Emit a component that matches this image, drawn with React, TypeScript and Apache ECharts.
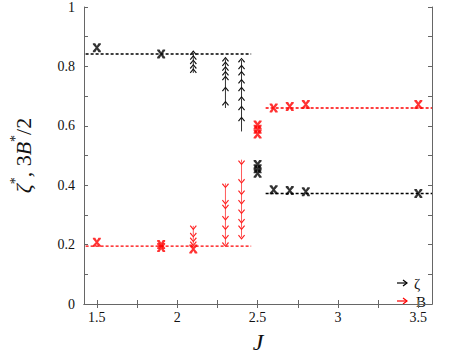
import React, { useEffect, useRef } from "react";
import * as echarts from "echarts";

// ---- data ----
const xTicks = [1.5, 1.75, 2, 2.25, 2.5, 2.75, 3, 3.25, 3.5];
const xLabels = [1.5, 2, 2.5, 3, 3.5];
const yTicks = [0, 0.1, 0.2, 0.3, 0.4, 0.5, 0.6, 0.7, 0.8, 0.9, 1];
const yLabels = [0, 0.2, 0.4, 0.6, 0.8, 1];

// fixed-point levels (dashed)
const zetaLeftLevel = 0.842;
const zetaRightLevel = 0.372;
const bLeftLevel = 0.195;
const bRightLevel = 0.66;
const leftRange = [1.43, 2.46];
const rightRange = [2.55, 3.585];

// converged points (x markers)
const zetaMarkJ = [1.5, 1.9, 2.5, 2.5, 2.5, 2.6, 2.7, 2.8, 3.5];
const zetaMarkV = [0.863, 0.842, 0.47, 0.455, 0.44, 0.385, 0.382, 0.378, 0.372];
const bMarkJ = [1.5, 1.9, 1.9, 2.1, 2.5, 2.5, 2.5, 2.6, 2.7, 2.8, 3.5];
const bMarkV = [0.208, 0.2, 0.19, 0.185, 0.603, 0.588, 0.572, 0.66, 0.665, 0.672, 0.672];

// flows (start value first, then successive iterates)
const zetaFlowJ = [2.1, 2.3, 2.4];
const zetaFlows = [
  [0.778, 0.785, 0.8, 0.815, 0.83, 0.846],
  [0.66, 0.676, 0.724, 0.761, 0.777, 0.793, 0.809, 0.824],
  [0.581, 0.623, 0.66, 0.692, 0.724, 0.75, 0.777, 0.798, 0.821],
];
const bFlowJ = [2.1, 2.3, 2.4];
const bFlows = [
  [0.263, 0.257, 0.232, 0.216, 0.203],
  [0.406, 0.398, 0.343, 0.327, 0.289, 0.257, 0.225, 0.2],
  [0.486, 0.476, 0.413, 0.375, 0.343, 0.311, 0.279, 0.257, 0.225],
];

const SERIF = "Liberation Serif";
const BLACK = "#000000";
const RED = "#ff0000";

const X_MARK =
  "path://M0,0 L3,0 L5,3 L7,0 L10,0 L10,1.5 L6.5,5 L10,8.5 L10,10 L7,10 L5,7 L3,10 L0,10 L0,8.5 L3.5,5 L0,1.5 Z";
const UP = "path://M0,5 L4,0 L8,5 L7,6 L4,2 L1,6 Z";
const DOWN = "path://M0,1 L1,0 L4,4 L7,0 L8,1 L4,6 Z";

export default function App() {
  const ref = useRef<HTMLDivElement>(null);

  useEffect(() => {
    if (!ref.current) return;
    const chart = echarts.init(ref.current, undefined, { renderer: "svg" });

    const series: any[] = [];

    const dashed = (name: string, range: number[], level: number, color: string) => ({
      name,
      type: "line",
      data: [
        [range[0], level],
        [range[1], level],
      ],
      showSymbol: false,
      symbol: "none",
      lineStyle: { color, width: 1.4, type: [3, 2] },
      z: 2,
    });
    series.push(dashed("zl", leftRange, zetaLeftLevel, BLACK));
    series.push(dashed("zr", rightRange, zetaRightLevel, BLACK));
    series.push(dashed("bl", leftRange, bLeftLevel, RED));
    series.push(dashed("br", rightRange, bRightLevel, RED));

    zetaFlows.forEach((vals, i) => {
      series.push({
        name: "ζ",
        type: "line",
        data: vals.map((v, k) =>
          k === 0
            ? { value: [zetaFlowJ[i], v], symbol: "none" }
            : { value: [zetaFlowJ[i], v] }
        ),
        symbol: UP,
        symbolSize: [7, 5],
        showAllSymbol: true,
        itemStyle: { color: "#111" },
        lineStyle: { color: "#333", width: 1 },
        z: 3,
      });
    });
    bFlows.forEach((vals, i) => {
      series.push({
        name: "B",
        type: "line",
        data: vals.map((v, k) =>
          k === 0
            ? { value: [bFlowJ[i], v], symbol: "none" }
            : { value: [bFlowJ[i], v] }
        ),
        symbol: DOWN,
        symbolSize: [7, 5],
        showAllSymbol: true,
        itemStyle: { color: "#ff2020" },
        lineStyle: { color: "#ff5a5a", width: 1 },
        z: 3,
      });
    });

    series.push({
      name: "zetaMarks",
      type: "scatter",
      data: zetaMarkJ.map((j, k) => [j, zetaMarkV[k]]),
      symbol: X_MARK,
      symbolSize: [8, 9],
      itemStyle: { color: BLACK },
      z: 4,
    });
    series.push({
      name: "bMarks",
      type: "scatter",
      data: bMarkJ.map((j, k) => [j, bMarkV[k]]),
      symbol: X_MARK,
      symbolSize: [8, 9],
      itemStyle: { color: RED },
      z: 4,
    });

    const axisLine = { show: true, lineStyle: { color: "#666", width: 1 } };
    const label = {
      fontFamily: SERIF,
      fontSize: 14,
      color: "#111",
    };

    chart.setOption({
      animation: false,
      textStyle: { fontFamily: SERIF },
      grid: { left: 75, right: 17, top: 3, bottom: 41 },
      xAxis: [
        {
          type: "value",
          position: "bottom",
          min: 1.42,
          max: 3.585,
          axisLine,
          axisTick: { inside: true, length: 4, customValues: xTicks, lineStyle: { color: "#666" } },
          axisLabel: { ...label, margin: 6, customValues: xLabels, formatter: (v: number) => String(v) },
          splitLine: { show: false },
          name: "J",
          nameLocation: "middle",
          nameGap: 26,
          nameTextStyle: { fontFamily: SERIF, fontStyle: "italic", fontSize: 24, color: "#111" },
        },
        {
          type: "value",
          position: "top",
          min: 1.42,
          max: 3.585,
          axisLine,
          axisTick: { inside: true, length: 4, customValues: xTicks, lineStyle: { color: "#666" } },
          axisLabel: { show: false },
          splitLine: { show: false },
        },
      ],
      yAxis: [
        {
          type: "value",
          position: "left",
          min: 0,
          max: 1,
          axisLine,
          axisTick: { inside: true, length: 4, customValues: yTicks, lineStyle: { color: "#666" } },
          axisLabel: { ...label, margin: 9, customValues: yLabels, formatter: (v: number) => String(v) },
          splitLine: { show: false },
          name: "{g|ζ}{s|*}{r|, 3}{g|B}{s|*}{r|/2}",
          nameLocation: "middle",
          nameGap: 50,
          nameRotate: 90,
          nameTextStyle: {
            color: "#111",
            fontFamily: SERIF,
            rich: {
              g: { fontFamily: SERIF, fontStyle: "italic", fontSize: 22, color: "#111", lineHeight: 26, verticalAlign: "bottom" },
              r: { fontFamily: SERIF, fontSize: 22, color: "#111", lineHeight: 26, verticalAlign: "bottom" },
              s: { fontFamily: SERIF, fontSize: 14, color: "#111", lineHeight: 26, verticalAlign: "top" },
            },
          },
        },
        {
          type: "value",
          position: "right",
          min: 0,
          max: 1,
          axisLine,
          axisTick: { inside: true, length: 4, customValues: yTicks, lineStyle: { color: "#666" } },
          axisLabel: { show: false },
          splitLine: { show: false },
        },
      ],
      series,
      graphic: [
        { type: "line", shape: { x1: 397, y1: 283, x2: 407, y2: 283 }, style: { stroke: "#000", lineWidth: 1.2 } },
        { type: "polyline", shape: { points: [[403, 280], [407, 283], [403, 286]] }, style: { stroke: "#000", fill: "none", lineWidth: 1.2 } },
        { type: "text", x: 414, y: 284, style: { text: "ζ", font: `15px ${SERIF}`, fill: "#111", align: "left", verticalAlign: "middle" } },
        { type: "line", shape: { x1: 397, y1: 301, x2: 407, y2: 301 }, style: { stroke: "#ff0000", lineWidth: 1.2 } },
        { type: "polyline", shape: { points: [[403, 298], [407, 301], [403, 304]] }, style: { stroke: "#ff0000", fill: "none", lineWidth: 1.2 } },
        { type: "text", x: 416, y: 302, style: { text: "B", font: `15px ${SERIF}`, fill: "#111", align: "left", verticalAlign: "middle" } },
      ],
    });

    return () => chart.dispose();
  }, []);

  return (
    <div
      ref={ref}
      style={{ position: "fixed", left: 0, top: 0, width: 449, height: 359, background: "#fff" }}
    />
  );
}
